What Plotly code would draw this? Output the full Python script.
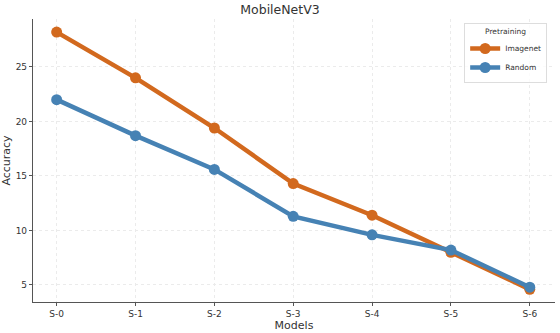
import plotly.graph_objects as go

models = ["S-0", "S-1", "S-2", "S-3", "S-4", "S-5", "S-6"]
imagenet = [28.2, 24.0, 19.4, 14.3, 11.4, 8.0, 4.6]
random_init = [22.0, 18.7, 15.6, 11.3, 9.6, 8.2, 4.8]

fig = go.Figure()
fig.add_trace(go.Scatter(x=models, y=imagenet, mode="lines+markers", name="Imagenet",
                         line=dict(color="#D2691E", width=4.5), marker=dict(size=11)))
fig.add_trace(go.Scatter(x=models, y=random_init, mode="lines+markers", name="Random",
                         line=dict(color="#4682B4", width=4.5), marker=dict(size=11)))

grid = dict(showgrid=True, gridcolor="#ebebeb", griddash="dot", gridwidth=1)
fig.update_layout(
    width=560, height=333,
    margin=dict(l=33, r=5, t=19, b=31),
    paper_bgcolor="white", plot_bgcolor="white",
    font=dict(family="DejaVu Sans", size=9, color="#333333"),
    title=dict(text="MobileNetV3", x=0.5, xanchor="center", yref="container", y=0.985, yanchor="top",
               font=dict(size=12.5, color="#333333")),
    legend=dict(title=dict(text="Pretraining", side="top center", font=dict(size=7.5)),
                x=0.985, y=0.985, xanchor="right", yanchor="top",
                bordercolor="#dddddd", borderwidth=1, bgcolor="rgba(255,255,255,0.8)",
                font=dict(size=7.5), itemwidth=30, tracegroupgap=0),
    xaxis=dict(title=dict(text="Models", standoff=3), range=[-0.3, 6.32], automargin=False,
               showline=True, linecolor="#555555", linewidth=1.2,
               ticks="outside", ticklen=3, tickcolor="#555555", **grid),
    yaxis=dict(title=dict(text="Accuracy", standoff=5), range=[3.44, 29.4], automargin=False,
               tickvals=[5, 10, 15, 20, 25],
               showline=True, linecolor="#555555", linewidth=1.2,
               ticks="outside", ticklen=3, tickcolor="#555555", zeroline=False, **grid),
)
# page body has a default 8px margin; drop it so the figure sits at the corner
fig.write_html("out.html", config={"displayModeBar": False},
               post_script="document.body.style.margin='0';")
